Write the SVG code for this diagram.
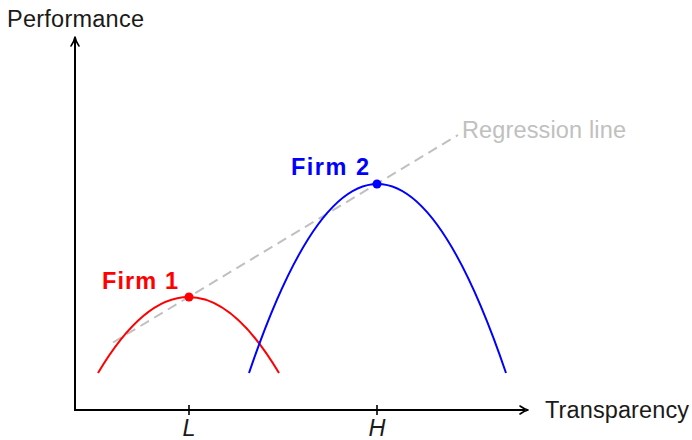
<svg xmlns="http://www.w3.org/2000/svg" width="692" height="440" viewBox="0 0 692 440">
<style>
.t{font-family:"Liberation Sans",Arial,sans-serif;font-size:23.5px;fill:#1a1a1a}
.firm{font-family:"Liberation Sans",Arial,sans-serif;font-size:23.5px;font-weight:bold}
.axis{stroke:#000;stroke-width:2;fill:none}
.ah{fill:none;stroke:#000;stroke-width:1.6;stroke-linecap:round;stroke-linejoin:round}
</style>
<rect width="692" height="440" fill="#fff"/>
<g id="axes">
<line class="axis" x1="75" y1="411" x2="75" y2="40"/>
<line class="axis" x1="74" y1="410" x2="525" y2="410"/>
<path class="ah" d="M71,46 Q74,42 75,37 Q76,42 79,46"/>
<path class="ah" d="M520,406 Q524,409 528,410 Q524,411 520,414"/>
<line stroke="#000" stroke-width="1.6" x1="189" y1="405" x2="189" y2="415"/>
<line stroke="#000" stroke-width="1.6" x1="377" y1="405" x2="377" y2="415"/>
<text class="t" x="7" y="27" textLength="137">Performance</text>
<text class="t" x="545" y="418" textLength="144">Transparency</text>
<text class="t" x="189" y="436" text-anchor="middle" font-style="italic">L</text>
<text class="t" x="377" y="436" text-anchor="middle" font-style="italic">H</text>
</g>
<g id="connectors">
<line x1="113" y1="342.5" x2="458" y2="135" stroke="#c0c0c0" stroke-width="2" stroke-dasharray="10,6"/>
</g>
<g id="regression-label">
<text class="t" x="462" y="138" textLength="164" style="fill:#c0c0c0">Regression line</text>
</g>
<g id="firm1">
<path d="M98,373 Q188.5,221 279,373" fill="none" stroke="#ff0000" stroke-width="2"/>
<circle cx="189" cy="297" r="4.5" fill="#ff0000"/>
<text class="firm" x="102" y="289" textLength="76" fill="#ff0000">Firm 1</text>
</g>
<g id="firm2">
<path d="M249,373 Q377.5,-5 506,373" fill="none" stroke="#0000ff" stroke-width="2"/>
<circle cx="377" cy="184" r="4.5" fill="#0000ff"/>
<text class="firm" x="291" y="175" textLength="78" fill="#0000ff">Firm 2</text>
</g>
</svg>
